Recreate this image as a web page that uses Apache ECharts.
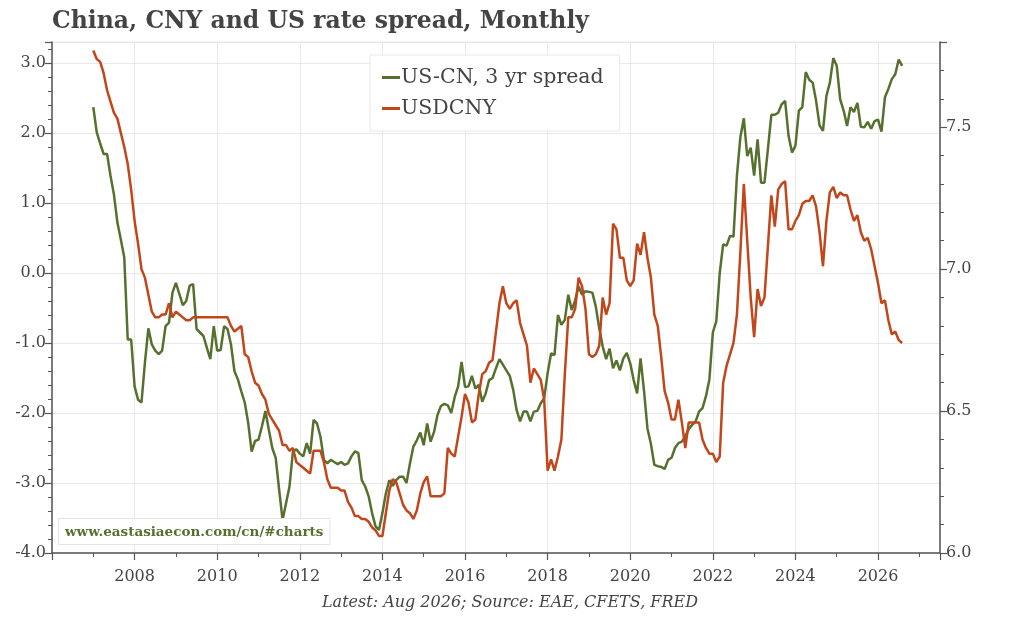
<!DOCTYPE html>
<html>
<head>
<meta charset="utf-8">
<script src="https://cdn.jsdelivr.net/npm/echarts@6/dist/echarts.min.js"></script>
<style>
html,body{margin:0;padding:0;background:#fff;}
#chart{width:1020px;height:620px;}
</style>
</head>
<body>
<div id="chart"></div>
<script>
// Monthly data, Jan 2007 .. Aug 2026
const startYear = 2007;
const startMonth = 1;
const spreadName = 'US-CN, 3 yr spread';
const fxName = 'USDCNY';

const spread = [
 2.37,2.01,1.85,1.70,1.70,1.39,1.12,0.72,0.48,0.22,-0.95,-0.95,
 -1.62,-1.81,-1.85,-1.28,-0.79,-1.02,-1.11,-1.16,-1.11,-0.76,-0.71,-0.28,
 -0.14,-0.30,-0.46,-0.40,-0.18,-0.16,-0.80,-0.85,-0.90,-1.07,-1.23,-0.76,
 -1.11,-1.10,-0.76,-0.80,-1.02,-1.40,-1.52,-1.69,-1.85,-2.14,-2.55,-2.40,
 -2.38,-2.19,-1.97,-2.24,-2.50,-2.64,-3.10,-3.53,-3.29,-3.05,-2.55,-2.52,
 -2.58,-2.62,-2.43,-2.58,-2.10,-2.15,-2.34,-2.67,-2.72,-2.67,-2.70,-2.73,
 -2.70,-2.74,-2.72,-2.62,-2.55,-2.57,-2.96,-3.05,-3.19,-3.43,-3.62,-3.67,
 -3.43,-3.15,-2.96,-3.04,-2.96,-2.91,-2.91,-3.00,-2.72,-2.48,-2.39,-2.28,
 -2.46,-2.15,-2.41,-2.27,-2.03,-1.90,-1.87,-1.89,-2.00,-1.77,-1.62,-1.27,
 -1.63,-1.62,-1.47,-1.65,-1.60,-1.84,-1.72,-1.53,-1.50,-1.36,-1.23,-1.31,
 -1.39,-1.47,-1.67,-1.96,-2.12,-1.98,-1.98,-2.12,-1.98,-1.97,-1.86,-1.79,
 -1.43,-1.15,-1.17,-0.60,-0.74,-0.67,-0.31,-0.53,-0.39,-0.19,-0.31,-0.26,
 -0.27,-0.28,-0.48,-0.79,-1.05,-1.23,-1.08,-1.36,-1.25,-1.39,-1.22,-1.14,
 -1.29,-1.53,-1.72,-1.22,-1.68,-2.22,-2.44,-2.74,-2.76,-2.77,-2.80,-2.67,
 -2.64,-2.50,-2.43,-2.41,-2.33,-2.23,-2.17,-2.12,-1.98,-1.93,-1.76,-1.52,
 -0.85,-0.69,0.00,0.41,0.39,0.53,0.52,1.39,1.94,2.21,1.67,1.79,
 1.39,1.91,1.29,1.29,1.77,2.26,2.26,2.29,2.41,2.46,1.96,1.72,
 1.82,2.32,2.37,2.87,2.76,2.72,2.46,2.11,2.03,2.53,2.72,3.07,
 2.96,2.48,2.32,2.10,2.37,2.30,2.43,2.09,2.08,2.16,2.06,2.17,
 2.19,2.02,2.51,2.63,2.77,2.84,3.05,2.96
];

const usdcny = [
 7.77,7.74,7.73,7.69,7.63,7.59,7.55,7.53,7.48,7.43,7.37,7.28,
 7.17,7.09,7.00,6.97,6.91,6.85,6.83,6.83,6.84,6.84,6.88,6.83,
 6.85,6.84,6.83,6.82,6.82,6.83,6.83,6.83,6.83,6.83,6.83,6.83,
 6.83,6.83,6.83,6.83,6.80,6.78,6.79,6.80,6.70,6.69,6.64,6.60,
 6.59,6.56,6.54,6.49,6.47,6.45,6.43,6.38,6.38,6.36,6.37,6.32,
 6.31,6.30,6.29,6.28,6.36,6.36,6.36,6.32,6.26,6.23,6.23,6.23,
 6.22,6.22,6.18,6.16,6.13,6.13,6.12,6.12,6.11,6.09,6.08,6.06,
 6.06,6.14,6.22,6.26,6.25,6.21,6.17,6.15,6.14,6.12,6.15,6.21,
 6.25,6.27,6.20,6.20,6.20,6.20,6.21,6.37,6.35,6.34,6.41,6.48,
 6.56,6.53,6.46,6.47,6.56,6.63,6.64,6.67,6.68,6.78,6.88,6.94,
 6.88,6.86,6.88,6.89,6.81,6.77,6.73,6.60,6.65,6.63,6.61,6.54,
 6.29,6.33,6.29,6.34,6.40,6.63,6.83,6.83,6.86,6.97,6.94,6.86,
 6.70,6.69,6.70,6.73,6.90,6.84,6.88,7.16,7.14,7.04,7.04,6.96,
 6.94,6.96,7.09,7.05,7.13,7.04,6.97,6.84,6.80,6.69,6.57,6.53,
 6.47,6.47,6.54,6.46,6.37,6.46,6.46,6.46,6.46,6.40,6.37,6.35,
 6.35,6.32,6.34,6.60,6.66,6.70,6.74,6.84,7.06,7.30,7.10,6.90,
 6.76,6.93,6.87,6.90,7.08,7.26,7.15,7.28,7.30,7.31,7.14,7.14,
 7.17,7.19,7.23,7.24,7.24,7.26,7.22,7.13,7.01,7.17,7.27,7.29,
 7.25,7.27,7.26,7.26,7.21,7.17,7.19,7.13,7.10,7.11,7.07,7.01,
 6.95,6.88,6.89,6.82,6.77,6.78,6.75,6.74
];

// x position of each month in decimal years
const months = spread.map((_, i) => startYear + (startMonth - 1 + i) / 12);

const titleText = 'China, CNY and US rate spread, Monthly';
const sourceText = 'Latest: Aug 2026; Source: EAE, CFETS, FRED';
const watermarkText = 'www.eastasiaecon.com/cn/#charts';

const GREEN = '#56702e';
const ORANGE = '#c2461a';
const SERIF = "'DejaVu Serif', 'Liberation Serif', serif";
const AXIS = '#555555';

const chart = echarts.init(document.getElementById('chart'), null, {renderer: 'canvas'});

chart.setOption({
  animation: false,
  backgroundColor: '#ffffff',
  title: {
    text: titleText,
    left: 47,
    top: 5,
    textStyle: {fontFamily: SERIF, fontWeight: 'bold', fontSize: 23.5, color: '#444444'}
  },
  legend: {
    orient: 'vertical',
    left: 370,
    top: 55,
    padding: [12, 16, 12, 12],
    itemGap: 10,
    itemWidth: 18,
    itemHeight: 3,
    icon: 'rect',
    backgroundColor: '#ffffff',
    borderColor: '#e8e8e8',
    borderWidth: 1,
    textStyle: {fontFamily: SERIF, fontSize: 20.5, color: '#444444', padding: [0, 0, 0, -4]},
    data: [spreadName, fxName]
  },
  grid: {
    left: 52, right: 80, top: 42, bottom: 67,
    show: true, borderColor: '#e6e6e6', borderWidth: 1, backgroundColor: 'transparent'
  },
  xAxis: {
    type: 'value',
    min: 2006,
    max: 2027.5,
    interval: 2,
    axisLine: {show: true, onZero: false, lineStyle: {color: AXIS, width: 1.5}},
    axisTick: {show: true, length: 7, lineStyle: {color: AXIS, width: 1.2}},
    minorTick: {show: true, splitNumber: 2, length: 4, lineStyle: {color: AXIS, width: 1}},
    splitLine: {show: true, lineStyle: {color: '#e9e9e9', width: 1}},
    axisLabel: {
      showMinLabel: false, showMaxLabel: false,
      fontFamily: SERIF, fontSize: 16, color: '#444444', margin: 16,
      formatter: v => String(Math.round(v))
    }
  },
  yAxis: [
    {
      type: 'value',
      position: 'left',
      min: -4,
      max: 3.3,
      interval: 1,
      axisLine: {show: true, lineStyle: {color: AXIS, width: 1.5}},
      axisTick: {show: true, length: 7, lineStyle: {color: AXIS, width: 1.2}},
      minorTick: {show: true, splitNumber: 5, length: 4, lineStyle: {color: AXIS, width: 1}},
      splitLine: {show: true, lineStyle: {color: '#e9e9e9', width: 1}},
      axisLabel: {
        showMaxLabel: false,
        fontFamily: SERIF, fontSize: 16, color: '#444444', margin: 6,
        formatter: v => v.toFixed(1)
      }
    },
    {
      type: 'value',
      position: 'right',
      min: 6,
      max: 7.8,
      interval: 0.5,
      axisLine: {show: true, lineStyle: {color: AXIS, width: 1.5}},
      axisTick: {show: true, length: 7, lineStyle: {color: AXIS, width: 1.2}},
      minorTick: {show: true, splitNumber: 5, length: 4, lineStyle: {color: AXIS, width: 1}},
      splitLine: {show: false},
      axisLabel: {
        showMaxLabel: false,
        fontFamily: SERIF, fontSize: 16, color: '#444444', margin: 6,
        formatter: v => v.toFixed(1)
      }
    }
  ],
  series: [
    {
      name: spreadName,
      type: 'line',
      yAxisIndex: 0,
      showSymbol: false,
      symbol: 'none',
      lineStyle: {color: GREEN, width: 2.5},
      itemStyle: {color: GREEN},
      data: months.map((m, i) => [m, spread[i]])
    },
    {
      name: fxName,
      type: 'line',
      yAxisIndex: 1,
      showSymbol: false,
      symbol: 'none',
      lineStyle: {color: ORANGE, width: 2.5},
      itemStyle: {color: ORANGE},
      data: months.map((m, i) => [m, usdcny[i]])
    }
  ],
  graphic: [
    {
      type: 'text',
      left: 58,
      top: 518,
      z: 100,
      style: {
        text: watermarkText,
        fontFamily: SERIF,
        fontWeight: 'bold',
        fontSize: 13.5,
        fill: GREEN,
        backgroundColor: '#ffffff',
        borderColor: '#e4e4e4',
        borderWidth: 1,
        padding: [6, 6, 5, 6]
      }
    },
    {
      type: 'text',
      left: 'center',
      top: 595,
      style: {
        text: sourceText,
        fontFamily: SERIF,
        fontStyle: 'italic',
        fontSize: 16,
        fill: '#444444'
      }
    }
  ]
});
</script>
</body>
</html>
